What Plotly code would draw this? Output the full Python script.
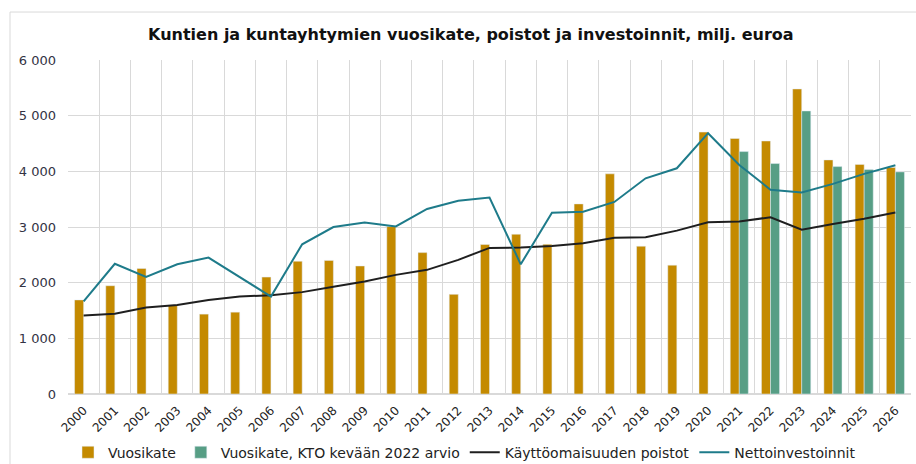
import plotly.graph_objects as go

years = [str(y) for y in range(2000, 2027)]
vuosikate = [1690, 1945, 2255, 1590, 1435, 1470, 2100, 2385, 2400, 2300, 3010, 2540, 1790,
             2685, 2870, 2690, 3415, 3955, 2655, 2315, 4705, 4590, 4545, 5480, 4205, 4125, 4070]
vuosikate_kto = [None] * 21 + [4355, 4140, 5085, 4085, 4035, 3990]
poistot = [1410, 1440, 1555, 1600, 1690, 1750, 1775, 1830, 1925, 2020, 2140, 2230, 2410,
           2625, 2630, 2660, 2710, 2805, 2815, 2935, 3085, 3100, 3175, 2950, 3055, 3150, 3260]
nettoinv = [1665, 2340, 2105, 2330, 2450, 2105, 1750, 2690, 3000, 3080, 3010, 3325, 3470,
            3530, 2330, 3255, 3275, 3450, 3875, 4055, 4685, 4115, 3670, 3620, 3775, 3955, 4110]
y_ticks = [0, 1000, 2000, 3000, 4000, 5000, 6000]
y_ticktext = ["0", "1 000", "2 000", "3 000", "4 000", "5 000", "6 000"]

FONT = "DejaVu Sans, Liberation Sans, Arial, sans-serif"

fig = go.Figure()
fig.add_trace(go.Bar(x=years, y=vuosikate, name="Vuosikate", marker_color="#C48A00"))
fig.add_trace(go.Bar(x=years, y=vuosikate_kto, name="Vuosikate, KTO kevään 2022 arvio",
                     marker_color="#579E85"))
fig.add_trace(go.Scatter(x=years, y=poistot, name="Käyttöomaisuuden poistot", mode="lines",
                         line=dict(color="#1F1F1F", width=2)))
fig.add_trace(go.Scatter(x=years, y=nettoinv, name="Nettoinvestoinnit", mode="lines",
                         line=dict(color="#1E7B8A", width=2)))

fig.update_layout(
    width=916, height=464,
    margin=dict(l=68, r=5, t=60, b=70, autoexpand=False),
    paper_bgcolor="white", plot_bgcolor="white",
    font=dict(family=FONT, size=12, color="#333333"),
    title=dict(text="<b>Kuntien ja kuntayhtymien vuosikate, poistot ja investoinnit, milj. euroa</b>",
               x=0.514, xanchor="center", y=0.925, yanchor="middle",
               font=dict(family=FONT, size=16, color="#111111")),
    barmode="group", bargap=0.42, bargroupgap=0,
    legend=dict(orientation="h", x=0.0, xanchor="left", y=-0.1756, yanchor="middle",
                font=dict(family=FONT, size=14, color="#222222"), traceorder="normal"),
    showlegend=True,
    shapes=[dict(type="rect", xref="paper", yref="paper", x0=-0.0688, x1=1.2, y0=-0.5, y1=1.1436,
                 line=dict(color="#d9d9d9", width=1), fillcolor="rgba(0,0,0,0)", layer="below")],
)
fig.update_xaxes(type="category", tickson="boundaries", showgrid=True, gridcolor="#d9d9d9",
                 gridwidth=1, tickangle=-45, tickfont=dict(family=FONT, size=12, color="#222222"),
                 ticks="", showline=False, zeroline=False, automargin=False, ticklabelstandoff=6)
fig.update_yaxes(range=[0, 6000], tickvals=y_ticks, ticktext=y_ticktext, showgrid=True,
                 gridcolor="#d9d9d9", gridwidth=1, zeroline=True, zerolinecolor="#d9d9d9",
                 tickfont=dict(family=FONT, size=13, color="#333344"), ticks="", showline=False,
                 automargin=False, ticklabelstandoff=11)

fig.write_html("out.html", config={"displayModeBar": False},
               post_script="document.body.style.margin='0px';document.body.style.overflow='hidden';")
